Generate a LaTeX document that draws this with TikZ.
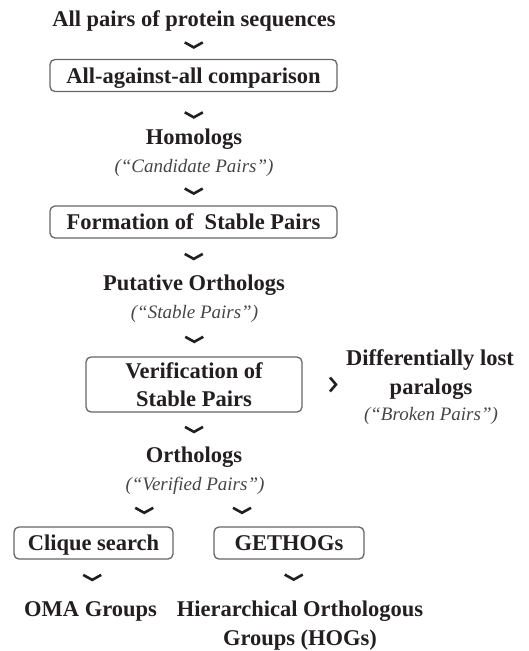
\documentclass[tikz,border=0pt]{standalone}
\usepackage{fontspec}
\setmainfont{Liberation Serif}
\usetikzlibrary{calc}
\definecolor{ink}{HTML}{231F20}
\definecolor{subink}{HTML}{454545}
\definecolor{boxline}{HTML}{666666}
\tikzset{
  lbl/.style={inner sep=0pt,anchor=base,text=ink,font=\fontsize{22.5}{28}\selectfont\bfseries},
  sub/.style={inner sep=0pt,anchor=base,text=subink,font=\fontsize{19}{24}\selectfont\itshape},
  stepbox/.style={draw=boxline,line width=1.3pt,rounded corners=5pt,inner sep=0pt,text depth=0pt,
    text=ink,font=\fontsize{22.5}{28}\selectfont\bfseries,align=center,minimum height=32pt},
  chev/.style={draw=ink,line width=2.6pt,line cap=butt,line join=miter}
}
% chevron between two anchors
\newcommand{\chev}[3][0.5]{\path ($(#2)!#1!(#3)$) coordinate (cc);
  \draw[chev] (cc) +(-9,-2.5) -- +(0,2.5) -- +(9,-2.5);}
\begin{document}
\begin{tikzpicture}[x=1pt,y=-1pt]
\useasboundingbox (0,0) rectangle (528,651);
\node[lbl] (top) at (194,26) {All pairs of protein sequences};
\node[stepbox,minimum width=287pt] (cmp) at (193.5,75.5) {All-against-all comparison};
\node[lbl] (hom) at (194,144) {Homologs};
\node[sub] (homc) at (194,172.5) {(``Candidate Pairs'')};
\node[stepbox,minimum width=287pt] (form) at (193.5,222) {Formation of~ Stable Pairs};
\node[lbl] (put) at (194,290) {Putative Orthologs};
\node[sub] (putc) at (194.5,318) {(``Stable Pairs'')};
\node[stepbox,minimum width=216pt,minimum height=55pt] (ver) at (194,384.5) {Verification of\\Stable Pairs};
\node[lbl] (lost) at (430,365) {Differentially lost};
\node[lbl] (lostb) at (431,394) {paralogs};
\node[sub] (lostc) at (431,420) {(``Broken Pairs'')};
\node[lbl] (orth) at (194,462) {Orthologs};
\node[sub] (orthc) at (195,490) {(``Verified Pairs'')};
\node[stepbox,minimum width=159pt] (clq) at (93.5,543) {Clique search};
\node[stepbox,minimum width=150pt] (geth) at (289,543) {GETHOGs};
\node[lbl] (oma) at (90.5,616) {OMA Groups};
\node[lbl] (hog) at (300,616) {Hierarchical Orthologous};
\node[lbl] (hogb) at (300,645) {Groups (HOGs)};

\chev{top.south}{cmp.north}
\chev[0.63]{cmp.south}{hom.north}
\chev{homc.south}{form.north}
\chev{form.south}{put.north}
\chev{putc.south}{ver.north}
\chev{ver.south}{orth.north}
\chev{orthc.south}{clq.north}
\chev{orthc.south}{geth.north}
\chev[0.43]{clq.south}{oma.north}
\chev[0.43]{geth.south}{hog.north}
\path ($(ver.east)!0.7!(ver.east -| lost.west)$) coordinate (sc);
\draw[chev] (sc) +(-3,-7) -- +(3,0) -- +(-3,7);
\end{tikzpicture}
\end{document}
